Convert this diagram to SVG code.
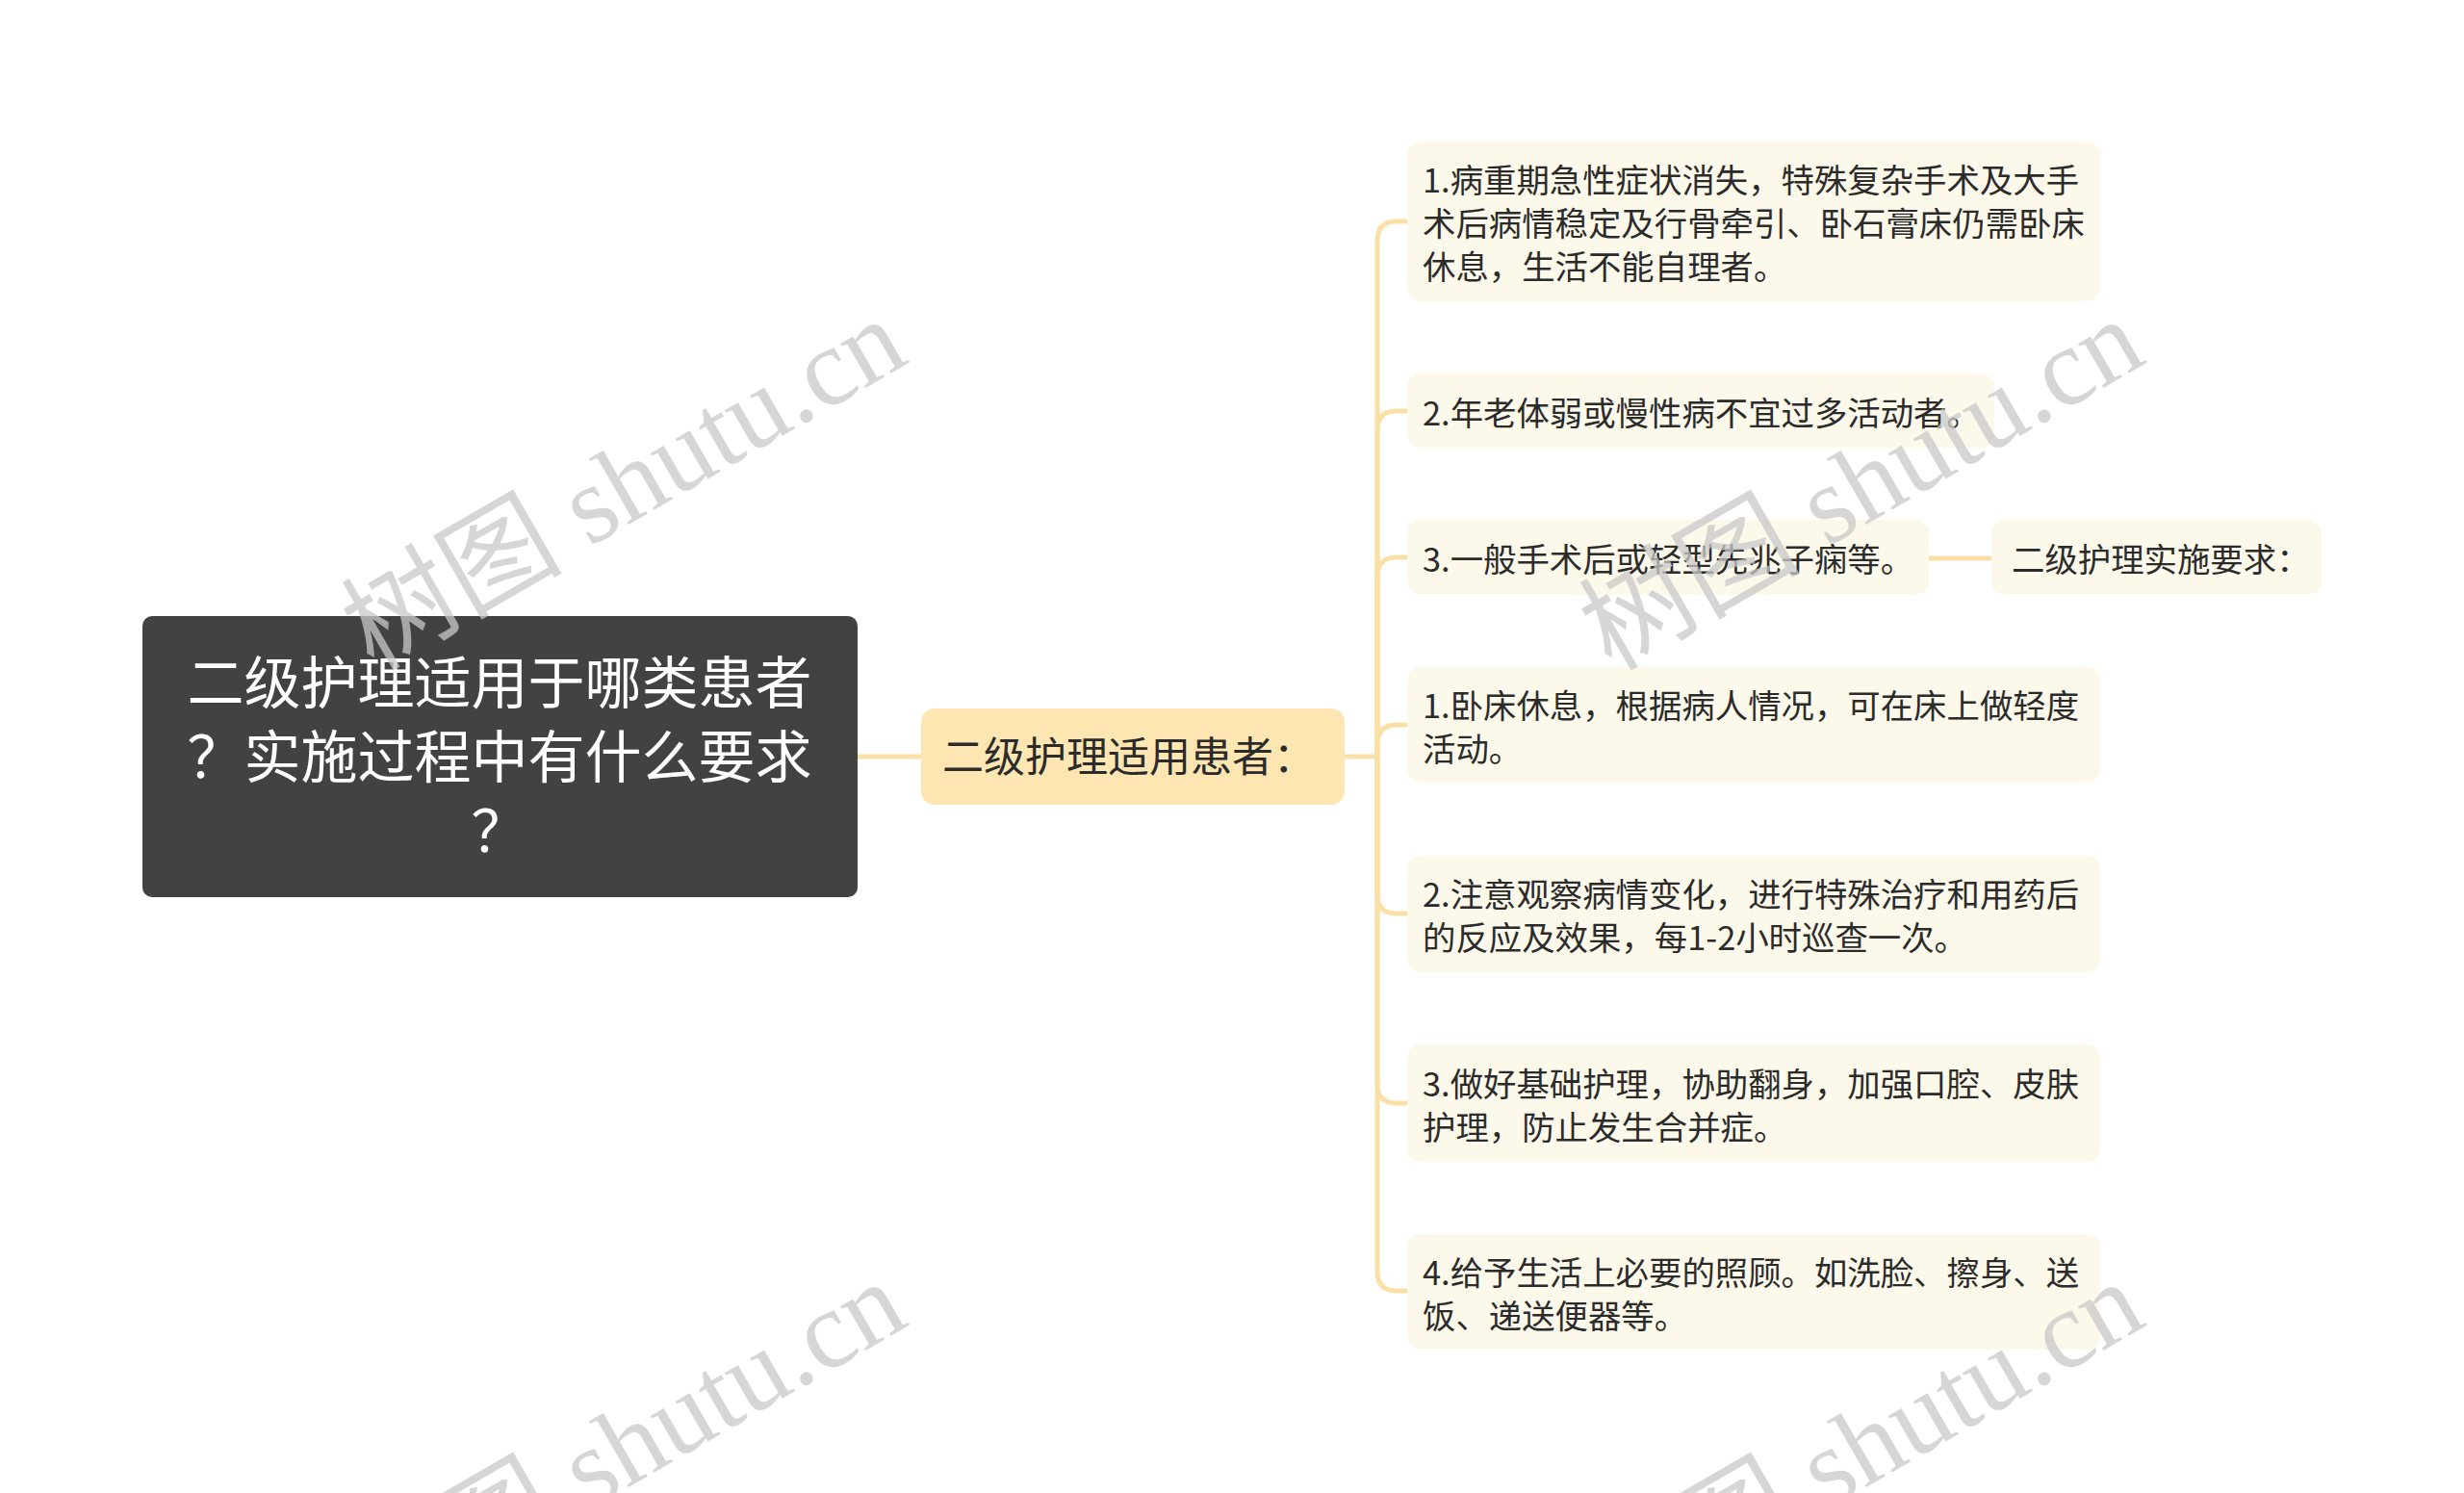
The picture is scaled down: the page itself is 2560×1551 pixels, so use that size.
<svg xmlns="http://www.w3.org/2000/svg" width="2560" height="1551" viewBox="0 0 2560 1551">
<style>
.cx{fill:none;stroke:#f9e0a6;stroke-width:5;stroke-linecap:round}
.leaf{fill:#fcf8ea}
.lt{font-family:"Noto Sans CJK SC","Noto Sans",sans-serif;font-size:34.4px;fill:#2b2b2b}
.rt{font-family:"Noto Sans CJK SC","Noto Sans",sans-serif;font-size:59px;fill:#ffffff;text-anchor:middle}
.ct{font-family:"Noto Sans CJK SC","Noto Sans",sans-serif;font-size:43px;fill:#2b2b2b}
.wm{font-family:"Liberation Serif","Noto Sans CJK SC",serif;font-size:115px;fill:#c9c9c9;opacity:0.75}
</style>
<rect width="2560" height="1551" fill="#ffffff"/>
<g id="connectors">
<path class="cx" d="M 891 786 H 957"/>
<path class="cx" d="M 1397 786 H 1431"/>
<path class="cx" d="M 1431 786 V 250 Q 1431 230 1451 230 H 1462"/>
<path class="cx" d="M 1431 786 V 447 Q 1431 427 1451 427 H 1462"/>
<path class="cx" d="M 1431 786 V 599 Q 1431 579 1451 579 H 1462"/>
<path class="cx" d="M 1431 786 V 773 Q 1431 753 1451 753 H 1462"/>
<path class="cx" d="M 1431 786 V 929 Q 1431 949 1451 949 H 1462"/>
<path class="cx" d="M 1431 786 V 1126 Q 1431 1146 1451 1146 H 1462"/>
<path class="cx" d="M 1431 786 V 1321 Q 1431 1341 1451 1341 H 1462"/>
<path class="cx" d="M 2004 580 H 2069"/>
</g>
<g id="root">
<rect x="148" y="640" width="743" height="292" rx="10" fill="#424242"/>
<text class="rt" x="519" y="731">二级护理适用于哪类患者</text>
<text class="rt" x="519" y="808">？实施过程中有什么要求</text>
<text class="rt" x="519" y="885">？</text>
</g>
<g id="center">
<rect x="957" y="736" width="440" height="100" rx="14" fill="#fde6b1"/>
<text class="ct" x="979" y="802">二级护理适用患者：</text>
</g>
<g id="leaf1">
<rect class="leaf" x="1462" y="147" width="720" height="166" rx="14"/>
<text class="lt" x="1478" y="200">1.病重期急性症状消失，特殊复杂手术及大手</text>
<text class="lt" x="1478" y="245">术后病情稳定及行骨牵引、卧石膏床仍需卧床</text>
<text class="lt" x="1478" y="290">休息，生活不能自理者。</text>
</g>
<g id="leaf2">
<rect class="leaf" x="1462" y="388" width="610" height="77" rx="14"/>
<text class="lt" x="1478" y="442">2.年老体弱或慢性病不宜过多活动者。</text>
</g>
<g id="leaf3">
<rect class="leaf" x="1462" y="540" width="542" height="78" rx="14"/>
<text class="lt" x="1478" y="594">3.一般手术后或轻型先兆子痫等。</text>
</g>
<g id="req">
<rect class="leaf" x="2069" y="540" width="343" height="78" rx="14"/>
<text class="lt" x="2090" y="594">二级护理实施要求：</text>
</g>
<g id="leaf4">
<rect class="leaf" x="1462" y="693" width="720" height="120" rx="14"/>
<text class="lt" x="1478" y="746">1.卧床休息，根据病人情况，可在床上做轻度</text>
<text class="lt" x="1478" y="791">活动。</text>
</g>
<g id="leaf5">
<rect class="leaf" x="1462" y="889" width="720" height="121" rx="14"/>
<text class="lt" x="1478" y="942">2.注意观察病情变化，进行特殊治疗和用药后</text>
<text class="lt" x="1478" y="987">的反应及效果，每1-2小时巡查一次。</text>
</g>
<g id="leaf6">
<rect class="leaf" x="1462" y="1085" width="720" height="122" rx="14"/>
<text class="lt" x="1478" y="1139">3.做好基础护理，协助翻身，加强口腔、皮肤</text>
<text class="lt" x="1478" y="1184">护理，防止发生合并症。</text>
</g>
<g id="leaf7">
<rect class="leaf" x="1462" y="1282" width="720" height="120" rx="14"/>
<text class="lt" x="1478" y="1335">4.给予生活上必要的照顾。如洗脸、擦身、送</text>
<text class="lt" x="1478" y="1380">饭、递送便器等。</text>
</g>
<g id="watermarks">
<text class="wm" transform="translate(388,698) rotate(-30)">树图 shutu.cn</text>
<text class="wm" transform="translate(1674,698) rotate(-30)">树图 shutu.cn</text>
<text class="wm" transform="translate(388,1698) rotate(-30)">树图 shutu.cn</text>
<text class="wm" transform="translate(1674,1698) rotate(-30)">树图 shutu.cn</text>
</g>
</svg>
